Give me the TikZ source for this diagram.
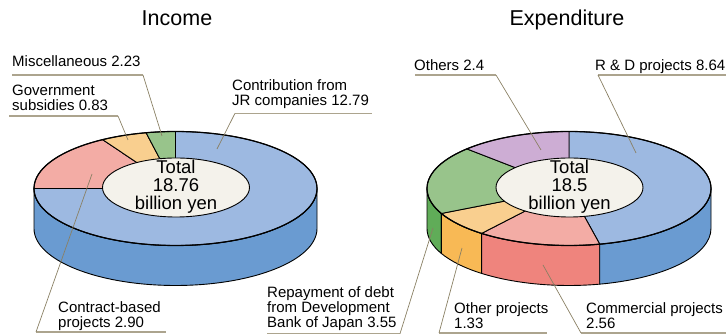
\documentclass[tikz,border=0pt]{standalone}
\usepackage{fontspec}
\setmainfont{Liberation Sans}
\usetikzlibrary{positioning,
                calc}
\definecolor{topblue}{RGB}{157,185,225}
\definecolor{sideblue}{RGB}{106,155,209}
\definecolor{toppink}{RGB}{243,172,165}
\definecolor{sidepink}{RGB}{239,132,125}
\definecolor{toporange}{RGB}{249,207,143}
\definecolor{sideorange}{RGB}{248,185,85}
\definecolor{topgreen}{RGB}{152,196,139}
\definecolor{sidegreen}{RGB}{96,172,88}
\definecolor{toppurple}{RGB}{205,173,212}
\definecolor{holefill}{RGB}{244,242,235}
\definecolor{leadcol}{RGB}{138,128,100}
\definecolor{undercol}{RGB}{172,164,142}
\tikzset{title/.style =
   {inner sep=0pt,
    font=\fontsize{21.5}{24}\selectfont}}
\tikzset{lab/.style =
   {inner sep=0pt,
    anchor=north west,
    align=left,
    font=\fontsize{15}{15}\selectfont}}
\tikzset{total/.style =
   {inner sep=0pt,
    align=center,
    font=\fontsize{18.5}{18}\selectfont}}
\tikzset{edge/.style = {draw=black, line width=0.9pt, line join=round}}
\tikzset{rim/.style = {draw=black, line width=1.2pt}}
\tikzset{leader/.style = {draw=leadcol, line width=0.7pt}}
\tikzset{underline/.style = {draw=undercol, line width=1.3pt}}

\begin{document}
\begin{tikzpicture}[x=1pt, y=1pt]
    \useasboundingbox (0,0) rectangle (726,336);

    % titles
    \node [title, anchor=base] (inc-title) at (177,310) {Income};
    \node [title, anchor=base] (exp-title) at (567,310) {Expenditure};

    % income donut
    \coordinate (inc) at (175.5,147.5);
    \coordinate (inc-hole) at (176,148.5);
    \path [edge, fill=sideblue] ($(inc)+(180:141.5pt and 57pt)$)
        arc[start angle=180, end angle=360, x radius=141.5pt, y radius=57pt]
        -- ++(0,-40)
        arc[start angle=360, end angle=180, x radius=141.5pt, y radius=57pt] -- cycle;
    \foreach \sa/\ea/\col in {90/-180/blue, -180/-239/pink, -239/-258/orange, -258/-270/green}
        \path [edge, fill=top\col] (inc) -- ($(inc)+(\sa:141.5pt and 57pt)$)
            arc[start angle=\sa, end angle=\ea, x radius=141.5pt, y radius=57pt] -- cycle;
    \path [rim] (inc) ellipse[x radius=141.5pt, y radius=57pt];
    \path [edge, fill=holefill] (inc-hole) ellipse[x radius=73.5pt, y radius=29.5pt];
    \node [total] (inc-total) at (176,149.5) {Total\\18.76\\billion yen};

    % expenditure donut
    \coordinate (exp) at (569,147.5);
    \coordinate (exp-hole) at (569.5,148.5);
    \foreach \sa/\ea/\col in {-180/-154/green, -154/-128/orange, -128/-77.5/pink, -77.5/0/blue}
        \path [edge, fill=side\col] ($(exp)+(\sa:142pt and 57pt)$)
            arc[start angle=\sa, end angle=\ea, x radius=142pt, y radius=57pt]
            -- ++(0,-40)
            arc[start angle=\ea, end angle=\sa, x radius=142pt, y radius=57pt] -- cycle;
    \foreach \sa/\ea/\col in {90/-77.5/blue, -77.5/-128/pink, -128/-154/orange, -154/-224/green, -224/-270/purple}
        \path [edge, fill=top\col] (exp) -- ($(exp)+(\sa:142pt and 57pt)$)
            arc[start angle=\sa, end angle=\ea, x radius=142pt, y radius=57pt] -- cycle;
    \path [rim] (exp) ellipse[x radius=142pt, y radius=57pt];
    \path [edge, fill=holefill] (exp-hole) ellipse[x radius=73.5pt, y radius=29.5pt];
    \node [total] (exp-total) at (569.5,149.5) {Total\\18.5\\billion yen};

    % income labels
    \node [lab] (misc) at (12,280.3) {Miscellaneous 2.23};
    \node [lab] (gov) at (12,251.3) {Government\\subsidies 0.83};
    \node [lab] (jr) at (232,256.3) {Contribution from\\JR companies 12.79};
    \node [lab] (contract) at (58,35) {Contract-based\\projects 2.90};

    \coordinate (misc-a) at (12,261);
    \coordinate (misc-b) at (143,261);
    \coordinate (misc-p) at (162,200);
    \coordinate (gov-a) at (9,220);
    \coordinate (gov-b) at (118,220);
    \coordinate (gov-p) at (128,196);
    \coordinate (jr-a) at (235,222.7);
    \coordinate (jr-b) at (372,222.7);
    \coordinate (jr-p) at (217,187);
    \coordinate (contract-a) at (36,4);
    \coordinate (contract-b) at (166,4);
    \coordinate (contract-p) at (92,162);

    % expenditure labels
    \node [lab] (others) at (414,277) {Others 2.4};
    \node [lab] (rd) at (595,277) {R \& D projects 8.64};
    \node [lab] (repay) at (267,49.3) {Repayment of debt\\from Development\\Bank of Japan 3.55};
    \node [lab] (otherproj) at (454,33.3) {Other projects\\1.33};
    \node [lab] (commercial) at (586,33.3) {Commercial projects\\2.56};

    \coordinate (others-a) at (415,261);
    \coordinate (others-b) at (496,261);
    \coordinate (others-p) at (541,186);
    \coordinate (rd-a) at (598,261);
    \coordinate (rd-b) at (726,261);
    \coordinate (rd-p) at (636,183);
    \coordinate (repay-a) at (267,2.3);
    \coordinate (repay-b) at (400,2.3);
    \coordinate (repay-p) at (433,108);
    \coordinate (otherproj-a) at (439,3);
    \coordinate (otherproj-b) at (547,3);
    \coordinate (otherproj-p) at (462,88);
    \coordinate (commercial-a) at (581,3);
    \coordinate (commercial-b) at (726,3);
    \coordinate (commercial-p) at (543,71);

    % leaders
    \foreach \lname in {misc, gov, jr, contract, others, rd, repay, otherproj, commercial}
        \path [underline] (\lname-a) -- (\lname-b);
    \path [leader] (misc-b) -- (misc-p);
    \path [leader] (gov-b) -- (gov-p);
    \path [leader] (jr-a) -- (jr-p);
    \path [leader] (contract-a) -- (contract-p);
    \path [leader] (others-b) -- (others-p);
    \path [leader] (rd-a) -- (rd-p);
    \path [leader] (repay-b) -- (repay-p);
    \path [leader] (otherproj-a) -- (otherproj-p);
    \path [leader] (commercial-a) -- (commercial-p);

\end{tikzpicture}
\end{document}
